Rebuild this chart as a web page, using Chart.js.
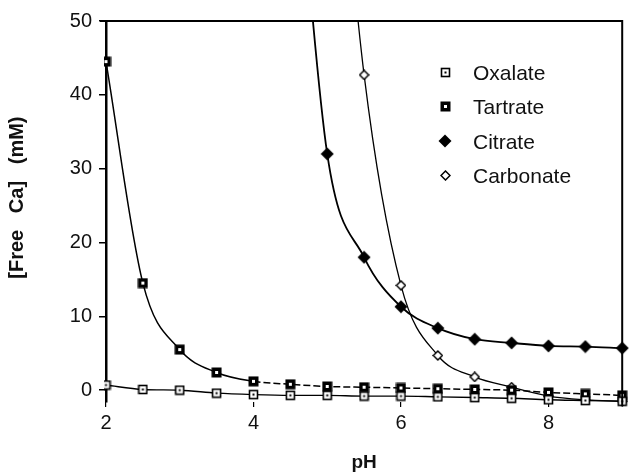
<!DOCTYPE html>
<html>
<head>
<meta charset="utf-8">
<title>Free Ca vs pH</title>
<script src="https://cdn.jsdelivr.net/npm/chart.js@4.4.0/dist/chart.umd.min.js"></script>
<style>
  html, body { margin: 0; padding: 0; background: #fff; }
</style>
</head>
<body>
<canvas id="caChart" width="630" height="474"></canvas>
<script>
// ── Values ───────────────────────────────────────────────────
const phAll = [2, 2.5, 3, 3.5, 4, 4.5, 5, 5.5, 6, 6.5, 7, 7.5, 8, 8.5, 9];
const oxalate = [0.7, 0.1, 0, -0.4, -0.6, -0.7, -0.7, -0.8, -0.8, -0.9, -1.0, -1.1, -1.3, -1.4, -1.5];
const tartrate = [44.5, 14.5, 5.5, 2.4, 1.2, 0.8, 0.5, 0.4, 0.3, 0.2, 0.1, 0, -0.3, -0.5, -0.7];

// first point of each of these sits above the top of the plot (curve runs off the frame)
const phCitrate = [4.5, 5, 5.5, 6, 6.5, 7, 7.5, 8, 8.5, 9];
const citrate = [85, 32, 18, 11.3, 8.4, 6.9, 6.4, 6.0, 5.9, 5.7];
const phCarbonate = [5, 5.5, 6, 6.5, 7, 7.5, 8, 8.5, 9];
const carbonate = [95, 42.7, 14.2, 4.7, 1.8, 0.4, -0.8, -1.3, -1.5];

const xTicks = [2, 4, 6, 8];
const yTicks = [0, 10, 20, 30, 40, 50];

const FONT = '"Liberation Sans", Arial, Helvetica, sans-serif';

// ── Marker glyphs ───────────────────────────────────────────
function makeMarker(size, draw) {
  const c = document.createElement('canvas');
  c.width = size;
  c.height = size;
  draw(c.getContext('2d'), size);
  return c;
}

const oxalateMark = makeMarker(11, (g, s) => {
  g.fillStyle = '#fff';
  g.fillRect(1, 1, s - 2, s - 2);
  g.strokeStyle = '#000';
  g.lineWidth = 1.6;
  g.strokeRect(1.5, 1.5, s - 3, s - 3);
  g.fillStyle = '#000';
  g.fillRect(s / 2 - 1, s / 2 - 1, 2, 2);
});

const tartrateMark = makeMarker(11, (g, s) => {
  g.fillStyle = '#000';
  g.fillRect(0.5, 0.5, s - 1, s - 1);
  g.fillStyle = '#fff';
  g.fillRect(s / 2 - 1.5, s / 2 - 1.5, 3, 3);
});

const citrateMark = makeMarker(14, (g, s) => {
  g.fillStyle = '#000';
  g.beginPath();
  g.moveTo(s / 2, 0.5); g.lineTo(s - 0.5, s / 2); g.lineTo(s / 2, s - 0.5); g.lineTo(0.5, s / 2);
  g.closePath();
  g.fill();
});

const carbonateMark = makeMarker(11, (g, s) => {
  g.fillStyle = '#fff';
  g.strokeStyle = '#000';
  g.lineWidth = 1.5;
  g.beginPath();
  g.moveTo(s / 2, 1); g.lineTo(s - 1, s / 2); g.lineTo(s / 2, s - 1); g.lineTo(1, s / 2);
  g.closePath();
  g.fill();
  g.stroke();
});

function toPoints(xs, ys) {
  return xs.map((x, i) => ({ x: x, y: ys[i] }));
}

function lineSeries(label, xs, ys, mark, width, extra) {
  return Object.assign({
    label: label,
    data: toPoints(xs, ys),
    borderColor: '#000',
    backgroundColor: '#000',
    borderWidth: width,
    pointStyle: mark,
    pointRadius: 6,
    cubicInterpolationMode: 'monotone',
    fill: false,
    clip: { left: 2, top: 0, right: 12, bottom: 12 },
  }, extra || {});
}

// ── Frame (top + right edges) ───────────────────────────────
const framePlugin = {
  id: 'frame',
  afterDraw(chart) {
    const { ctx, chartArea: a } = chart;
    ctx.save();
    ctx.strokeStyle = '#000';
    ctx.lineWidth = 2;
    ctx.beginPath();
    ctx.moveTo(a.left - 6, a.top);
    ctx.lineTo(a.right, a.top);
    ctx.lineTo(a.right, a.bottom + 4);
    ctx.stroke();
    ctx.restore();
  }
};

// ── Inset legend, top right of plot ─────────────────────────
const insetLegend = {
  id: 'insetLegend',
  afterDraw(chart) {
    const { ctx, chartArea: a } = chart;
    const mx = a.left + 339;
    ctx.save();
    ctx.font = '21px ' + FONT;
    ctx.fillStyle = '#111';
    ctx.textBaseline = 'middle';
    chart.data.datasets.forEach((ds, i) => {
      const y = a.top + 51 + i * 34.5;
      const img = ds.pointStyle;
      ctx.drawImage(img, Math.round(mx - img.width / 2), Math.round(y - img.height / 2));
      ctx.fillText(ds.label, mx + 28, y + 2);
    });
    ctx.restore();
  }
};

new Chart(document.getElementById('caChart'), {
  type: 'line',
  data: {
    datasets: [
      lineSeries('Oxalate', phAll, oxalate, oxalateMark, 1.4),
      lineSeries('Tartrate', phAll, tartrate, tartrateMark, 1.5, {
        segment: { borderDash: ctx => (ctx.p0.parsed.y < 1.5 ? [7, 3] : undefined) }
      }),
      lineSeries('Citrate', phCitrate, citrate, citrateMark, 1.8),
      lineSeries('Carbonate', phCarbonate, carbonate, carbonateMark, 1.3),
    ]
  },
  options: {
    responsive: false,
    animation: false,
    events: [],
    layout: { padding: { top: 21, right: 6, bottom: 0, left: 0 } },
    plugins: {
      legend: { display: false },
      tooltip: { enabled: false }
    },
    scales: {
      x: {
        type: 'linear',
        min: 2,
        max: 9,
        afterBuildTicks: s => { s.ticks = xTicks.map(v => ({ value: v })); },
        afterFit: s => { s.height = 72; },
        grid: { drawOnChartArea: false, drawTicks: true, tickLength: 5, color: '#000', lineWidth: 1.2 },
        border: { display: false },
        ticks: { color: '#111', font: { family: FONT, size: 20 }, padding: 4, maxRotation: 0 },
        title: {
          display: true, text: 'pH', color: '#111',
          font: { family: FONT, size: 19, weight: 'bold' },
          padding: { top: 0, bottom: 0 }
        }
      },
      y: {
        min: -1.6,
        max: 50,
        afterBuildTicks: s => { s.ticks = yTicks.map(v => ({ value: v })); },
        afterFit: s => { s.width = 106; },
        grid: { drawOnChartArea: false, drawTicks: true, tickLength: 7, color: '#000', lineWidth: 1.5 },
        border: { display: true, color: '#000', width: 2.5 },
        ticks: { color: '#111', font: { family: FONT, size: 20 }, padding: 7 },
        title: {
          display: true,
          // leading spaces nudge the label up the axis, as in the original
          text: '     [Free   Ca]   (mM)',
          color: '#111',
          font: { family: FONT, size: 20, weight: 'bold' },
          padding: { top: 5, bottom: 0 }
        }
      }
    }
  },
  plugins: [framePlugin, insetLegend]
});
</script>
</body>
</html>
